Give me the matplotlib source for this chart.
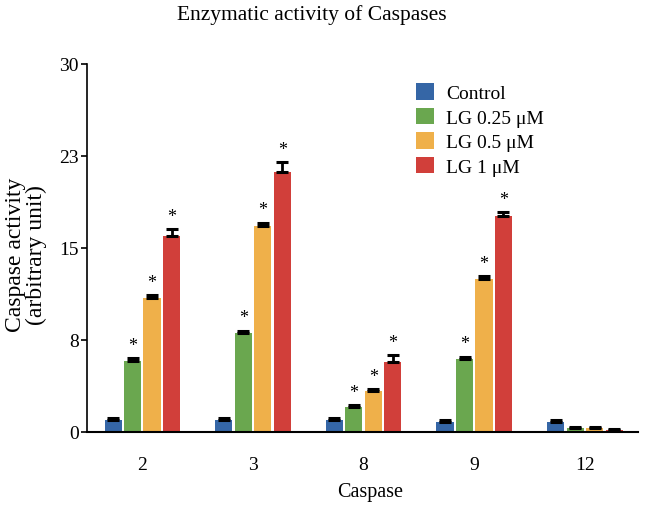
# Caspase activity bar chart

# Import
import numpy as np
import matplotlib.pyplot as plt

plt.rcParams['font.family'] = ['Liberation Serif', 'DejaVu Serif']

# Data
caspases = ["2", "3", "8", "9", "12"]
series = ["Control", "LG 0.25 μM", "LG 0.5 μM", "LG 1 μM"]
control = [1.0, 1.0, 1.0, 0.8, 0.85]
lg_025 = [5.8, 8.1, 2.05, 5.95, 0.3]
lg_05 = [10.9, 16.8, 3.3, 12.5, 0.3]
lg_1 = [16.0, 21.2, 5.7, 17.6, 0.15]
control_err = [0.15, 0.15, 0.15, 0.15, 0.15]
lg_025_err = [0.2, 0.15, 0.15, 0.2, 0.12]
lg_05_err = [0.25, 0.25, 0.2, 0.2, 0.12]
lg_1_err = [0.5, 0.8, 0.55, 0.3, 0.12]
significant = [[False] * 5,
               [True, True, True, True, False],
               [True, True, True, True, False],
               [True, True, True, True, False]]
y_ticks = [0, 7.5, 15, 22.5, 30]
y_ticklabels = ["0", "8", "15", "23", "30"]

colors = ["#3566a6", "#6aa74f", "#efb04a", "#d13f3a"]

# Plotting
fig = plt.figure(figsize=(6.46, 5.10), dpi=100)
ax = fig.add_axes([87 / 646, 0.151, (638 - 87) / 646, 0.722])

x = np.arange(len(caspases))
width = 0.155
pitch = 0.176
values = [control, lg_025, lg_05, lg_1]
errors = [control_err, lg_025_err, lg_05_err, lg_1_err]

for i, (vals, errs) in enumerate(zip(values, errors)):
    pos = x + (i - 1.5) * pitch
    ax.bar(pos, vals, width=width, color=colors[i], label=series[i], zorder=2)
    ax.errorbar(pos, vals, yerr=[np.zeros(len(vals)), errs], fmt="none",
                ecolor="black", elinewidth=2, capsize=4, capthick=2.2, zorder=3)
    for p, v, e, s in zip(pos, vals, errs, significant[i]):
        if s:
            ax.text(p, v + e + 0.35, "*", ha="center", va="bottom", fontsize=13)

ax.set_xlim(-0.50, 4.48)
ax.set_ylim(0, 30)
ax.set_xticks(x)
ax.set_xticklabels(caspases, fontsize=14)
ax.tick_params(axis="x", length=0, pad=17)
ax.set_yticks(y_ticks)
ax.set_yticklabels(y_ticklabels, fontsize=14)
ax.tick_params(axis="y", length=4, width=1.2, pad=2)

ax.spines["top"].set_visible(False)
ax.spines["right"].set_visible(False)
ax.spines["left"].set_linewidth(1.2)
ax.spines["bottom"].set_linewidth(1.5)

ax.set_xlabel("Caspase", fontsize=14.5, labelpad=8)
ax.xaxis.set_label_coords(0.514, -0.135)
fig.text(26 / 646, 0.50, "Caspase activity\n(arbitrary unit)", fontsize=17,
         rotation=90, ha="center", va="center", linespacing=1.05)
fig.suptitle("Enzymatic activity of Caspases", fontsize=15.5, x=0.482, y=0.99)

ax.legend(loc="upper left", bbox_to_anchor=(0.565, 0.995), frameon=False,
          fontsize=14, handlelength=0.95, handleheight=0.95, handletextpad=0.6,
          labelspacing=0.28)

fig.savefig("out.png", dpi=100)
